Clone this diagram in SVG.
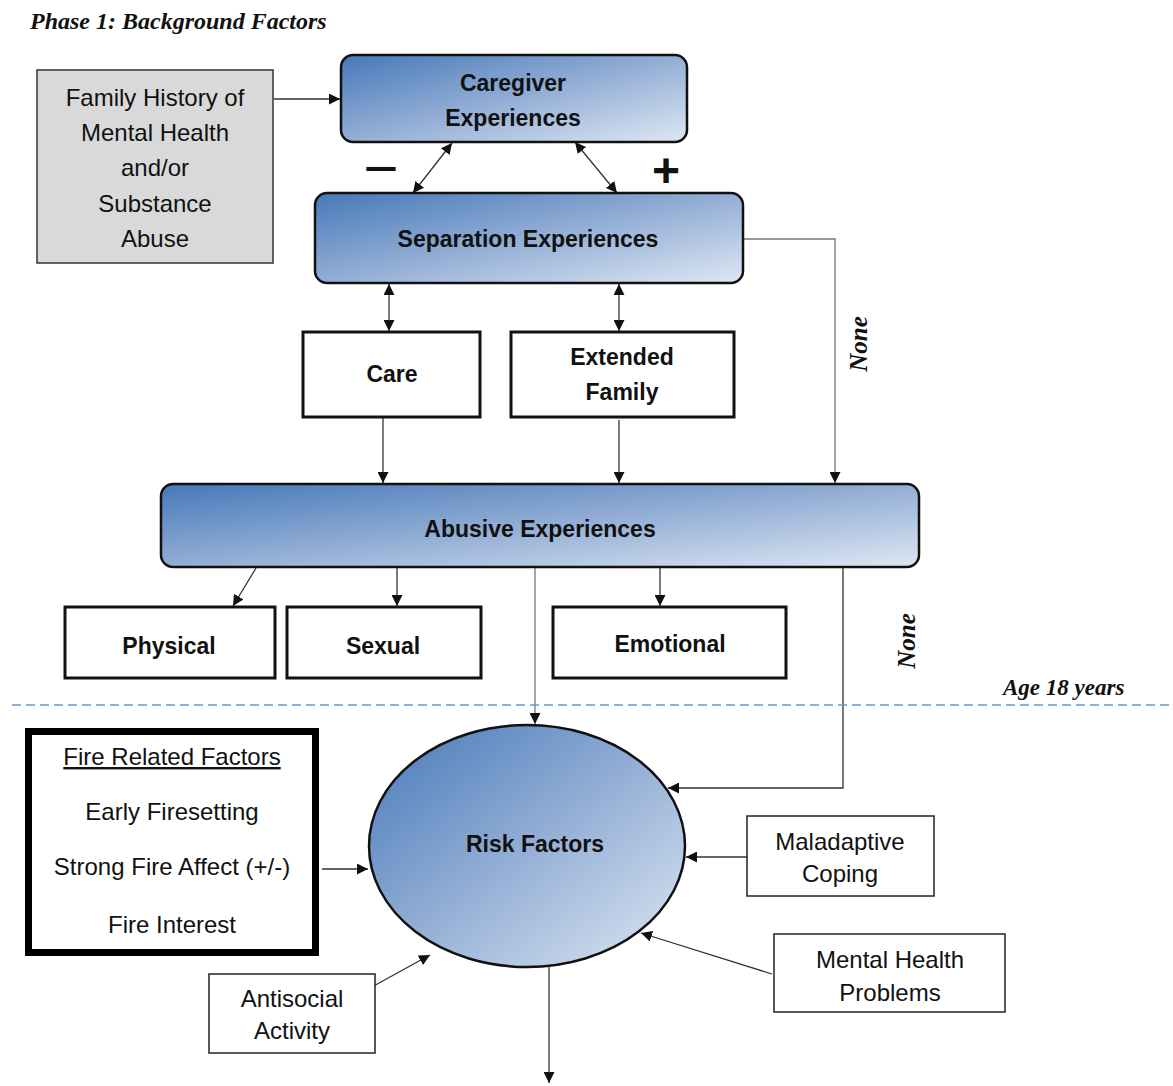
<svg xmlns="http://www.w3.org/2000/svg" width="1173" height="1086" viewBox="0 0 1173 1086">
<style>
.t{font-family:"Liberation Sans",Arial,sans-serif;font-size:24px;fill:#111;text-anchor:middle}
.b{font-weight:bold;font-size:23px}
.s{font-family:"Liberation Serif","Times New Roman",serif;font-weight:bold;font-style:italic;font-size:23px;fill:#111}
.grad{fill:url(#blue);stroke:#111;stroke-width:2.5}
.box{fill:#fff;stroke:#111;stroke-width:3}
.thin{fill:#fff;stroke:#222;stroke-width:1.5}
.c{fill:none;stroke:#333;stroke-width:1.3}
.cg{fill:none;stroke:#777;stroke-width:1.3}
</style>
<defs>
<linearGradient id="blue" x1="0" y1="0" x2="1" y2="1">
<stop offset="0" stop-color="#4679b9"/>
<stop offset="0.5" stop-color="#93aed5"/>
<stop offset="1" stop-color="#dde7f3"/>
</linearGradient>
<marker id="ah" viewBox="0 0 10 10" refX="10" refY="5" markerWidth="11" markerHeight="11" markerUnits="userSpaceOnUse" orient="auto-start-reverse">
<path d="M0,0 L10,5 L0,10 z" fill="#111"/>
</marker>
</defs>

<text class="s" x="30" y="29" style="font-size:24px">Phase 1: Background Factors</text>

<g id="connectors">
<line class="c" x1="274" y1="99" x2="340" y2="99" marker-end="url(#ah)"/>
<line class="c" x1="452" y1="143" x2="413" y2="193" marker-start="url(#ah)" marker-end="url(#ah)"/>
<line class="c" x1="575" y1="142" x2="617" y2="193" marker-start="url(#ah)" marker-end="url(#ah)"/>
<line class="c" x1="389" y1="284" x2="389" y2="331" marker-start="url(#ah)" marker-end="url(#ah)"/>
<line class="c" x1="619" y1="284" x2="619" y2="331" marker-start="url(#ah)" marker-end="url(#ah)"/>
<polyline class="cg" points="744,239 835,239 835,483" marker-end="url(#ah)"/>
<line class="c" x1="383" y1="418" x2="383" y2="483" marker-end="url(#ah)"/>
<line class="c" x1="619" y1="420" x2="619" y2="483" marker-end="url(#ah)"/>
<line class="c" x1="256" y1="568" x2="233" y2="606" marker-end="url(#ah)"/>
<line class="c" x1="397" y1="568" x2="397" y2="606" marker-end="url(#ah)"/>
<line class="c" x1="660" y1="568" x2="660" y2="606" marker-end="url(#ah)"/>
<line class="cg" x1="535" y1="568" x2="535" y2="724" marker-end="url(#ah)"/>
<polyline class="c" points="843,568 843,788 668,788" marker-end="url(#ah)"/>
<line class="c" x1="322" y1="869" x2="368" y2="869" marker-end="url(#ah)"/>
<line class="c" x1="747" y1="857" x2="686" y2="857" marker-end="url(#ah)"/>
<line class="c" x1="772" y1="974" x2="641" y2="933" marker-end="url(#ah)"/>
<line class="c" x1="370" y1="988" x2="430" y2="955" marker-end="url(#ah)"/>
<line class="c" x1="549" y1="967" x2="549" y2="1083" marker-end="url(#ah)"/>
</g>

<line x1="12" y1="705" x2="1173" y2="705" stroke="#6a95cf" stroke-width="1.6" stroke-dasharray="9,5"/>

<g id="family-history">
<rect x="37" y="70" width="236" height="193" fill="#d9d9d9" stroke="#333" stroke-width="1.5"/>
<text class="t" x="155" y="106">Family History of</text>
<text class="t" x="155" y="141">Mental Health</text>
<text class="t" x="155" y="176">and/or</text>
<text class="t" x="155" y="212">Substance</text>
<text class="t" x="155" y="247">Abuse</text>
</g>

<g id="caregiver">
<rect class="grad" x="341" y="55" width="346" height="87" rx="12"/>
<text class="t b" x="513" y="91">Caregiver</text>
<text class="t b" x="513" y="126">Experiences</text>
</g>

<g id="signs">
<text class="t b" x="381" y="180" style="font-size:40px" textLength="33" lengthAdjust="spacingAndGlyphs">–</text>
<text class="t b" x="666" y="187" style="font-size:48px">+</text>
</g>

<g id="separation">
<rect class="grad" x="315" y="193" width="428" height="90" rx="12"/>
<text class="t b" x="528" y="247">Separation Experiences</text>
</g>

<g id="care">
<rect class="box" x="303" y="332" width="177" height="85"/>
<text class="t b" x="392" y="382">Care</text>
</g>

<g id="extended-family">
<rect class="box" x="511" y="332" width="223" height="85"/>
<text class="t b" x="622" y="365">Extended</text>
<text class="t b" x="622" y="400">Family</text>
</g>

<text class="s" style="font-size:25px" transform="translate(867,344) rotate(-90)" text-anchor="middle">None</text>

<g id="abusive">
<rect class="grad" x="161" y="484" width="758" height="83" rx="12"/>
<text class="t b" x="540" y="537">Abusive Experiences</text>
</g>

<g id="physical">
<rect class="box" x="65" y="607" width="210" height="71"/>
<text class="t b" x="169" y="654">Physical</text>
</g>

<g id="sexual">
<rect class="box" x="287" y="607" width="194" height="71"/>
<text class="t b" x="383" y="654">Sexual</text>
</g>

<g id="emotional">
<rect class="box" x="553" y="607" width="233" height="71"/>
<text class="t b" x="670" y="652">Emotional</text>
</g>

<text class="s" style="font-size:25px" transform="translate(915,641) rotate(-90)" text-anchor="middle">None</text>
<text class="s" x="1003" y="695">Age 18 years</text>

<g id="fire-related">
<rect x="28.5" y="731.5" width="287" height="221" fill="#fff" stroke="#000" stroke-width="7"/>
<text class="t" x="172" y="765" text-decoration="underline">Fire Related Factors</text>
<text class="t" x="172" y="820">Early Firesetting</text>
<text class="t" x="172" y="875">Strong Fire Affect (+/-)</text>
<text class="t" x="172" y="933">Fire Interest</text>
</g>

<g id="risk-factors">
<ellipse cx="527" cy="846" rx="158" ry="121" fill="url(#blue)" stroke="#111" stroke-width="2.5"/>
<text class="t b" x="535" y="852">Risk Factors</text>
</g>

<g id="maladaptive">
<rect class="thin" x="747" y="816" width="187" height="80"/>
<text class="t" x="840" y="850">Maladaptive</text>
<text class="t" x="840" y="882">Coping</text>
</g>

<g id="mental-health">
<rect class="thin" x="774" y="934" width="231" height="78"/>
<text class="t" x="890" y="968">Mental Health</text>
<text class="t" x="890" y="1001">Problems</text>
</g>

<g id="antisocial">
<rect class="thin" x="209" y="974" width="166" height="79"/>
<text class="t" x="292" y="1007">Antisocial</text>
<text class="t" x="292" y="1039">Activity</text>
</g>
</svg>
